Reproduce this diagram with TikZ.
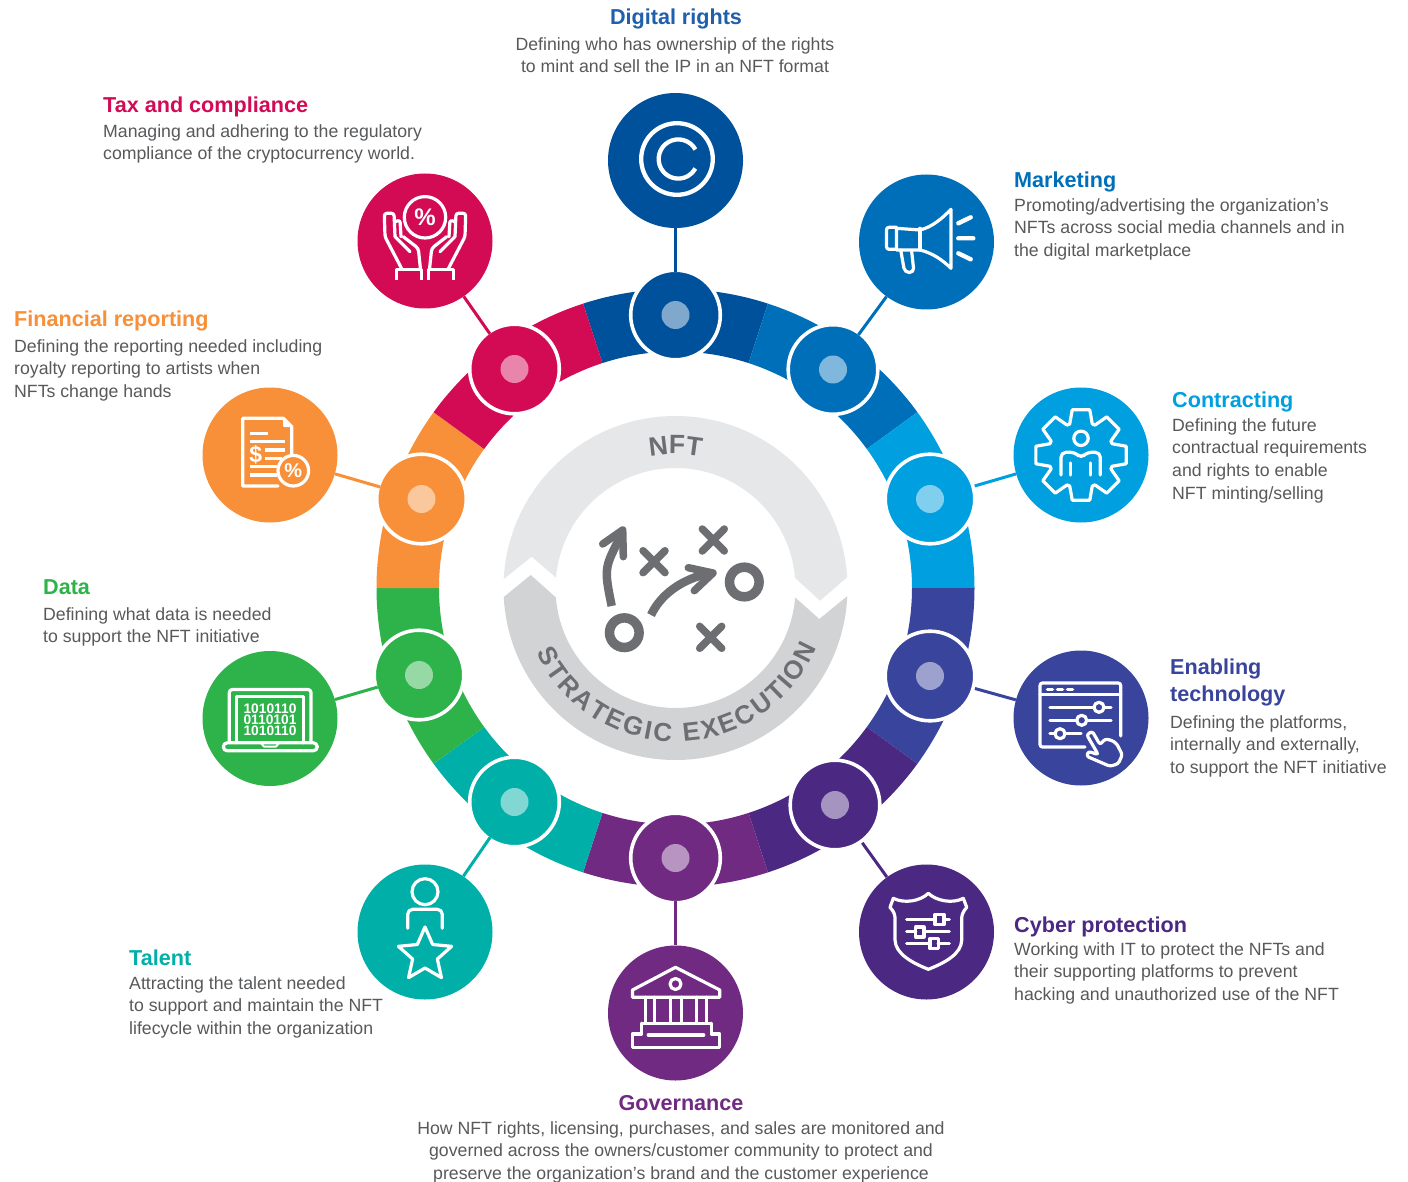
\documentclass[tikz,border=0pt]{standalone}
\usepackage{fontspec}
\setmainfont{Liberation Sans}
\usetikzlibrary{decorations.text}
\definecolor{cdig}{HTML}{00519B}
\definecolor{cdigt}{HTML}{1F5FAD}
\definecolor{cmar}{HTML}{006FBA}
\definecolor{ccon}{HTML}{009FDF}
\definecolor{cena}{HTML}{39459C}
\definecolor{ccyb}{HTML}{4B2882}
\definecolor{cgov}{HTML}{702A82}
\definecolor{ctal}{HTML}{00B0A8}
\definecolor{cdat}{HTML}{2DB34A}
\definecolor{cfin}{HTML}{F79038}
\definecolor{ctax}{HTML}{D30B55}
\definecolor{glight}{HTML}{E6E7E8}
\definecolor{gmid}{HTML}{D1D3D4}
\definecolor{gdark}{HTML}{6D6E71}
\definecolor{txt}{HTML}{58595B}
\newcommand\ringseg[3]{\fill[#1] (#2:299) arc[start angle=#2,end angle=#3,radius=299pt] -- (#3:236.5) arc[start angle=#3,end angle=#2,radius=236.5pt] -- cycle;}
\tikzset{
  hub/.style={circle,inner sep=0pt,minimum size=89.6pt,draw=white,line width=3.6pt},
  hubdot/.style={circle,inner sep=0pt,minimum size=28pt},
  badge/.style={circle,inner sep=0pt,minimum size=135pt},
  link/.style={line width=3pt,shorten <=-3.6pt},
  gaplink/.style={line width=3pt},
  icon/.style={draw=white,line width=3.2pt,line join=round,line cap=round},
  ttl/.style={inner sep=0pt,anchor=base west,font=\fontsize{21.6}{27}\selectfont\bfseries},
  bodytext/.style={inner sep=0pt,anchor=north west,yshift=15.82pt,align=left,text=txt,font=\fontsize{17.7}{22.6}\selectfont},
  bodyc/.style={inner sep=0pt,anchor=north,yshift=15.82pt,align=center,text=txt,font=\fontsize{17.7}{22.6}\selectfont},
  ticon/.style={text=white,inner sep=0pt},
  playmark/.style={draw=gdark,line width=7.5pt,line cap=round,line join=round},
}
\begin{document}
\begin{tikzpicture}[x=1pt,y=-1pt]
\fill[white] (0,0) rectangle (1408,1182);
\useasboundingbox (0,0) rectangle (1408,1182);
% ring and centre (y upward, origin at centre)
\begin{scope}[shift={(675.5,588)},y=1pt]
  \ringseg{cdig}{72}{108}
  \ringseg{cmar}{36}{72}
  \ringseg{ccon}{0}{36}
  \ringseg{cena}{-36}{0}
  \ringseg{ccyb}{-72}{-36}
  \ringseg{cgov}{-108}{-72}
  \ringseg{ctal}{-144}{-108}
  \ringseg{cdat}{-180}{-144}
  \ringseg{cfin}{144}{180}
  \ringseg{ctax}{108}{144}
  \fill[glight] (177:172) arc[start angle=177,end angle=3.6,radius=172pt] -- (144.5,-12.7) -- (4.9:120) arc[start angle=4.9,end angle=175,radius=120pt] -- (-143.8,31.3) -- cycle;
  \fill[gmid] (183:172) arc[start angle=183,end angle=357.3,radius=172pt] -- (143.8,-31) -- (355.5:120) arc[start angle=355.5,end angle=184.5,radius=120pt] -- (-144.8,13) -- cycle;
  \path[decorate,decoration={text along path,text align={fit to path},text={|\fontsize{26}{28}\selectfont\bfseries\color{gdark}|STRATEGIC EXECUTION}}] (205:153.5) arc[start angle=205,end angle=337,radius=153.5pt];
  \path[decorate,decoration={text along path,text align={fit to path},text={|\fontsize{26.5}{28}\selectfont\bfseries\color{gdark}|NFT}}] (101:134) arc[start angle=101,end angle=79,radius=134pt];
\end{scope}
% centre play diagram
\draw[draw=gdark,line width=9.5pt] (624.3,632.7) circle[radius=14.8pt];
\draw[draw=gdark,line width=9.5pt] (744.3,582) circle[radius=14.8pt];
\draw[playmark] (643,550.7) -- (665,572.7) (665,550.7) -- (643,572.7);
\draw[playmark] (702.3,529) -- (724.3,551) (724.3,529) -- (702.3,551);
\draw[playmark] (699.7,626.3) -- (721.7,648.3) (721.7,626.3) -- (699.7,648.3);
\draw[draw=gdark,line width=8.5pt] (611.7,606) .. controls (604,568) .. (621.5,535);
\draw[playmark] (602.7,544) -- (622.7,530) -- (623.3,556.7);
\draw[draw=gdark,line width=8.5pt] (651,615) .. controls (660,596) and (680,579) .. (711,573);
\draw[playmark] (688.3,567.7) -- (713,573) -- (694.3,590.7);
% hubs
\node[hub,fill=cdig] (n1) at (675.5,315) {};
\node[hub,fill=cmar] (n2) at (833,369.5) {};
\node[hub,fill=ccon] (n3) at (930,499) {};
\node[hub,fill=cena] (n4) at (930,676) {};
\node[hub,fill=ccyb] (n5) at (835,805) {};
\node[hub,fill=cgov] (n6) at (675.5,858) {};
\node[hub,fill=ctal] (n7) at (514.5,802) {};
\node[hub,fill=cdat] (n8) at (419,675) {};
\node[hub,fill=cfin] (n9) at (421.5,499) {};
\node[hub,fill=ctax] (n10) at (514.5,369) {};
\node[hubdot,fill=cdig!50!white] (d1) at (n1) {};
\node[hubdot,fill=cmar!50!white] (d2) at (n2) {};
\node[hubdot,fill=ccon!50!white] (d3) at (n3) {};
\node[hubdot,fill=cena!50!white] (d4) at (n4) {};
\node[hubdot,fill=ccyb!50!white] (d5) at (n5) {};
\node[hubdot,fill=cgov!50!white] (d6) at (n6) {};
\node[hubdot,fill=ctal!50!white] (d7) at (n7) {};
\node[hubdot,fill=cdat!50!white] (d8) at (n8) {};
\node[hubdot,fill=cfin!50!white] (d9) at (n9) {};
\node[hubdot,fill=ctax!50!white] (d10) at (n10) {};
% badges
\node[badge,fill=cdig] (b1) at (675.5,160.5) {};
\node[badge,fill=cmar] (b2) at (926.5,242) {};
\node[badge,fill=ccon] (b3) at (1081,455) {};
\node[badge,fill=cena] (b4) at (1081,718) {};
\node[badge,fill=ccyb] (b5) at (926.5,932) {};
\node[badge,fill=cgov] (b6) at (675.5,1013) {};
\node[badge,fill=ctal] (b7) at (425,932) {};
\node[badge,fill=cdat] (b8) at (270,718.5) {};
\node[badge,fill=cfin] (b9) at (270,455) {};
\node[badge,fill=ctax] (b10) at (425,241) {};
% connectors
\draw[link,cdig] (n1) -- (b1);
\draw[link,cmar] (n2) -- (b2);
\draw[gaplink,ccon] (n3) -- (b3);
\draw[gaplink,cena] (n4) -- (b4);
\draw[gaplink,ccyb] (n5) -- (b5);
\draw[link,cgov] (n6) -- (b6);
\draw[link,ctal] (n7) -- (b7);
\draw[link,cdat] (n8) -- (b8);
\draw[link,cfin] (n9) -- (b9);
\draw[link,ctax] (n10) -- (b10);
% icon: copyright
\begin{scope}[shift={(b1.center)}]
  \draw[icon,line width=4.3pt] (1.5,-1.5) circle[radius=35.8pt];
  \draw[icon,line width=4.3pt,line cap=butt] (19.9,-11) arc[start angle=29,end angle=331,radius=19.6pt];
\end{scope}
% icon: megaphone
\begin{scope}[shift={(b2.center)}]
  \draw[icon] (-6.5,-12) .. controls (6,-15) and (16,-24) .. (24.5,-32.7) -- (24.5,26.3) .. controls (16,18) and (6,11) .. (-6.5,8) -- (-30,8) -- (-30,-13.7) -- cycle;
  \draw[icon] (-6.5,-13.7) -- (-6.5,8);
  \draw[icon,rounded corners=2.5pt] (-30,-14.7) -- (-40,-14.7) -- (-40,7.3) -- (-30,7.3);
  \draw[icon,rounded corners=4.5pt] (-25.8,8) -- (-21.8,30.5) -- (-12.5,30.5) -- (-14.8,9.7);
  \draw[icon,line width=4.4pt] (31.8,-18.7) -- (44.2,-24.7) (31.8,-3.7) -- (46.8,-3.7) (31.8,11.3) -- (44.2,17.3);
\end{scope}
% icon: gear and person
\begin{scope}[shift={(b3.center)}]
  \draw[icon] (-110:33) \foreach \a in {-90,-45,...,225} { -- (\a-20:33) -- (\a-11:46) -- (\a+11:46) -- (\a+20:33) } -- cycle;
  \draw[icon] (0,-16.7) circle[radius=7.2pt];
  \draw[icon,rounded corners=5pt] (-20,20) -- (-20,-2.7) -- (-5.7,-2.7) -- (0,3.5) -- (5.7,-2.7) -- (19.3,-2.7) -- (19.3,20);
  \draw[icon] (-10.5,8) -- (-10.5,20) (9.5,8) -- (9.5,20);
\end{scope}
% icon: window with sliders and hand
\begin{scope}[shift={(b4.center)}]
  \draw[icon,rounded corners=2.5pt] (39.7,18) -- (39.7,-35) -- (-41,-35) -- (-41,29) -- (4,29);
  \draw[icon] (-41,-23.3) -- (39.7,-23.3);
  \draw[icon,line width=3.6pt] (-33.5,-28.6) -- (-28.5,-28.6) (-23.5,-28.6) -- (-18.5,-28.6) (-13.5,-28.6) -- (-8.5,-28.6);
  \draw[icon] (-31,-10.7) -- (13,-10.7) (23,-10.7) -- (30,-10.7);
  \draw[icon] (-31,2.3) -- (-4.3,2.3) (5.7,2.3) -- (30,2.3);
  \draw[icon] (-31,15.7) -- (-26,15.7) (-16,15.7) -- (0,15.7);
  \draw[icon] (18,-10.7) circle[radius=5pt] (0.7,2.3) circle[radius=5pt] (-21,15.7) circle[radius=5pt];
  \draw[icon,rounded corners=2.5pt] (5.7,16.7) -- (11.3,13.3) -- (19,26.7) -- (24,21) -- (30.7,22.3) -- (35.7,25.7) -- (41.3,36.7) -- (37.3,45.7) -- (29,48.3) -- (5.7,38.3) -- (7.3,33.3) -- (17.3,36.7) -- cycle;
\end{scope}
% icon: shield
\begin{scope}[shift={(b5.center)}]
  \draw[icon] (1.8,-38.7) .. controls (-6,-31) and (-22,-28) .. (-33.2,-33.7) -- (-36.5,-24.7) .. controls (-32,-20) and (-31.5,-16) .. (-31.5,-13.7) -- (-31.5,8) .. controls (-31,22) and (-14,31) .. (1.8,37.3) .. controls (18,31) and (35,22) .. (35.2,8) -- (35.2,-13.7) .. controls (35.2,-16) and (36,-20) .. (40.2,-24.7) -- (36.8,-33.7) .. controls (26,-28) and (10,-31) .. cycle;
  \draw[icon] (-19.8,-12.7) -- (8.5,-12.7) (17.5,-12.7) -- (22.8,-12.7);
  \draw[icon] (-19.8,-0.3) -- (-10.8,-0.3) (-2.5,-0.3) -- (22.8,-0.3);
  \draw[icon] (-19.8,11.3) -- (3.5,11.3) (11.8,11.3) -- (22.8,11.3);
  \draw[icon] (8.5,-17.5) rectangle (17.5,-7.5) (-10.8,-5) rectangle (-2.5,5) (3.5,6.3) rectangle (11.8,16.5);
\end{scope}
% icon: institution
\begin{scope}[shift={(b6.center)}]
  \draw[icon] (0,-45.7) -- (44.3,-23) -- (44.3,-15.7) -- (-43,-15.7) -- (-43,-23) -- cycle;
  \draw[icon] (0,-29) circle[radius=5.5pt];
  \draw[icon] (-30,-15.7) -- (-30,10.3) (-20.7,-15.7) -- (-20.7,10.3) (-5,-15.7) -- (-5,10.3) (6,-15.7) -- (6,10.3) (21,-15.7) -- (21,10.3) (31,-15.7) -- (31,10.3);
  \draw[icon] (-34,10.3) -- (36,10.3);
  \draw[icon] (-34,10.3) -- (-34,21) -- (-43,21) -- (-43,34.7) -- (44.3,34.7) -- (44.3,21) -- (36,21) -- (36,10.3);
  \draw[icon] (-27.3,22) -- (28.3,22);
\end{scope}
% icon: person and star
\begin{scope}[shift={(b7.center)}]
  \draw[icon] (0,-40.3) circle[radius=13pt];
  \draw[icon,rounded corners=5pt] (-17.3,-3.7) -- (-17.3,-22.7) -- (17.3,-22.7) -- (17.3,-3.7);
  \begin{scope}[shift={(0,23)}]
    \draw[icon] (-90:28) \foreach \a in {-90,-18,54,126,198} { -- (\a:28) -- (\a+36:13) } -- cycle;
  \end{scope}
\end{scope}
% icon: laptop with binary digits
\begin{scope}[shift={(b8.center)}]
  \draw[icon,rounded corners=3pt] (-40.7,24.3) -- (-40.7,-29) -- (41,-29) -- (41,24.3);
  \draw[icon] (-33.3,24.3) -- (-33.3,-21.7) -- (33.3,-21.7) -- (33.3,24.3);
  \draw[icon,rounded corners=4pt] (-46.7,24.3) -- (-46.7,32.3) -- (47.3,32.3) -- (47.3,24.3) -- cycle;
  \draw[icon,line width=2pt] (-9.3,24.3) -- (-6,28) -- (6,28) -- (9.3,24.3);
  \node[ticon,font=\fontsize{13.8}{13.8}\selectfont\bfseries] (bin1) at (0,-10) {1010110};
  \node[ticon,font=\fontsize{13.8}{13.8}\selectfont\bfseries] (bin2) at (0,1.2) {0110101};
  \node[ticon,font=\fontsize{13.8}{13.8}\selectfont\bfseries] (bin3) at (0,12.7) {1010110};
\end{scope}
% icon: document
\begin{scope}[shift={(b9.center)}]
  \draw[icon] (21.7,0) -- (21.7,-28.3) -- (13.3,-36.7) -- (-27.3,-36.7) -- (-27.3,31) -- (8,31);
  \draw[icon,line width=2pt,fill=white] (14,-34) -- (14,-29) -- (19,-29) -- cycle;
  \draw[icon,line cap=butt] (-20,-21.7) -- (-2.3,-21.7) (-20,-13.3) -- (15,-13.3) (-5.3,-5) -- (15,-5) (-5.3,3.3) -- (11.7,3.3) (-20,11.7) -- (7.3,11.7) (-20,20) -- (7.3,20);
  \node[ticon,font=\fontsize{23}{23}\selectfont\bfseries] (dol) at (-14.3,0) {\$};
  \draw[icon] (23.3,15.7) circle[radius=15.3pt];
  \node[ticon,font=\fontsize{20}{20}\selectfont\bfseries] (pct1) at (23.3,15.7) {\%};
\end{scope}
% icon: hands holding percent
\begin{scope}[shift={(b10.center)}]
  \draw[icon] (0,-23.7) circle[radius=20.7pt];
  \node[ticon,font=\fontsize{24}{24}\selectfont\bfseries] (pct2) at (0,-23.7) {\%};
  \foreach \s in {1,-1} {
  \begin{scope}[xscale=\s]
    \draw[icon,line cap=butt,line width=2.8pt] (-28.3,39) -- (-28.3,28.3) -- (-3.2,28.3) -- (-3.2,39);
    \draw[icon,rounded corners=2.5pt] (-23,28.3) -- (-40,-4.3) -- (-40.7,-27.7) -- (-31,-27.7) -- (-30,-4.3);
    \draw[icon] (-30,-4.3) -- (-15,10.7);
    \draw[icon,rounded corners=2.5pt] (-30,-19.3) -- (-25,-21) -- (-24,-4.3);
    \draw[icon,rounded corners=3pt] (-21.7,-4.3) -- (-6.7,7.3) -- (-4.5,28.3);
  \end{scope}
  }
\end{scope}
% texts
\node[ttl,anchor=base,text=cdigt] (t1) at (676,25) {Digital rights};
\node[bodyc] (x1) at (675,50) {\strut Defining who has ownership of the rights\\to mint and sell the IP in an NFT format};
\node[ttl,text=ctax] (t10) at (103,113) {Tax and compliance};
\node[bodytext] (x10) at (103,137) {\strut Managing and adhering to the regulatory\\compliance of the cryptocurrency world.};
\node[ttl,text=cmar] (t2) at (1014,188) {Marketing};
\node[bodytext] (x2) at (1014,211) {\strut Promoting/advertising the organization’s\\NFTs across social media channels and in\\the digital marketplace};
\node[ttl,text=ccon] (t3) at (1172,407) {Contracting};
\node[bodytext] (x3) at (1172,431) {\strut Defining the future\\contractual requirements\\and rights to enable\\NFT minting/selling};
\node[ttl,text=cena,anchor=north west,yshift=18.9pt,align=left] (t4) at (1170,674) {\strut Enabling\\technology};
\node[bodytext] (x4) at (1170,728) {\strut Defining the platforms,\\internally and externally,\\to support the NFT initiative};
\node[ttl,text=ccyb] (t5) at (1014,932) {Cyber protection};
\node[bodytext] (x5) at (1014,955) {\strut Working with IT to protect the NFTs and\\their supporting platforms to prevent\\hacking and unauthorized use of the NFT};
\node[ttl,anchor=base,text=cgov] (t6) at (681,1110) {Governance};
\node[bodyc] (x6) at (681,1134) {\strut How NFT rights, licensing, purchases, and sales are monitored and\\governed across the owners/customer community to protect and\\preserve the organization’s brand and the customer experience};
\node[ttl,text=ctal] (t7) at (129,965) {Talent};
\node[bodytext] (x7) at (129,989) {\strut Attracting the talent needed\\to support and maintain the NFT\\lifecycle within the organization};
\node[ttl,text=cdat] (t8) at (43,594) {Data};
\node[bodytext] (x8) at (43,620) {\strut Defining what data is needed\\to support the NFT initiative};
\node[ttl,text=cfin] (t9) at (14,326.5) {Financial reporting};
\node[bodytext] (x9) at (14,352) {\strut Defining the reporting needed including\\royalty reporting to artists when\\NFTs change hands};
\end{tikzpicture}
\end{document}
